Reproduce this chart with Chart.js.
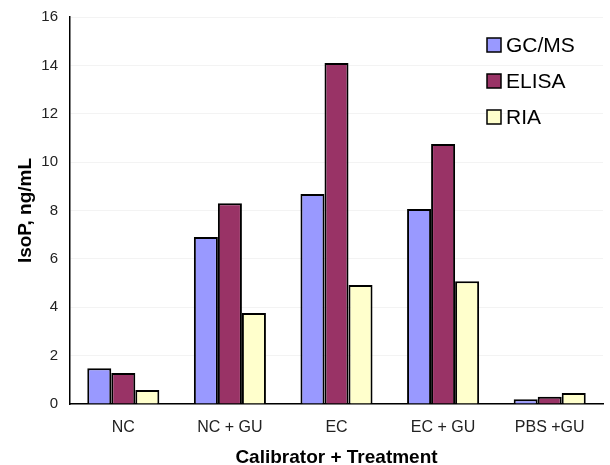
<!DOCTYPE html>
<html lang="en">
<head>
  <meta charset="UTF-8">
  <title>IsoP by Calibrator + Treatment</title>
  <script src="https://cdn.jsdelivr.net/npm/chart.js"></script>
  <style>
    html, body { margin: 0; padding: 0; background: #fff; }
    #wrap { width: 610px; height: 465px; position: relative; }
  </style>
</head>
<body>
<div id="wrap"><canvas id="chart"></canvas></div>
<script>
  const categories = ["NC", "NC + GU", "EC", "EC + GU", "PBS +GU"];
  const gcms = [1.48, 6.9, 8.68, 8.06, 0.2];
  const elisa = [1.28, 8.3, 14.1, 10.75, 0.3];
  const ria = [0.58, 3.76, 4.92, 5.08, 0.45];
  const yTicks = [0, 2, 4, 6, 8, 10, 12, 14, 16];

  const font = "'Liberation Sans', Arial, sans-serif";

  // legend drawn inside the plot, top right
  const insideLegend = {
    id: "insideLegend",
    afterDraw(chart) {
      const ctx = chart.ctx;
      ctx.save();
      ctx.font = "21px " + font;
      ctx.textBaseline = "middle";
      chart.data.datasets.forEach((ds, i) => {
        const y = 45 + i * 36;
        ctx.fillStyle = ds.backgroundColor;
        ctx.fillRect(487, y - 7, 14, 14);
        ctx.strokeStyle = "#000";
        ctx.lineWidth = 1.5;
        ctx.strokeRect(487, y - 7, 14, 14);
        ctx.fillStyle = "#000";
        ctx.fillText(ds.label, 506, y + 1);
      });
      ctx.restore();
    }
  };

  new Chart(document.getElementById("chart"), {
    type: "bar",
    data: {
      labels: categories,
      datasets: [
        { label: "GC/MS", data: gcms, backgroundColor: "#9999FF" },
        { label: "ELISA", data: elisa, backgroundColor: "#993366" },
        { label: "RIA", data: ria, backgroundColor: "#FFFFCC" }
      ].map(d => Object.assign(d, { borderColor: "#000", borderWidth: 2 }))
    },
    options: {
      responsive: true,
      maintainAspectRatio: false,
      animation: false,
      categoryPercentage: 0.676,
      barPercentage: 1,
      layout: { padding: { top: 17, right: 7, left: 0, bottom: 0 } },
      plugins: {
        legend: { display: false },
        tooltip: { enabled: false }
      },
      scales: {
        x: {
          grid: { display: false, drawTicks: false },
          border: { color: "#000", width: 1.5 },
          ticks: { color: "#222", font: { family: font, size: 16 }, padding: 14 },
          title: {
            display: true, text: "Calibrator + Treatment", color: "#000",
            font: { family: font, size: 19, weight: "bold" }, padding: { top: 4, bottom: -4 }
          },
          afterFit(scale) { scale.height = 61; }
        },
        y: {
          min: 0, max: 16,
          afterBuildTicks(scale) { scale.ticks = yTicks.map(v => ({ value: v })); },
          grid: { color: "#f3f3f3", drawTicks: false },
          border: { color: "#000", width: 1.5 },
          ticks: { color: "#222", font: { family: font, size: 15 }, padding: 12 },
          title: {
            display: true, text: "IsoP, ng/mL", color: "#000",
            font: { family: font, size: 19, weight: "bold" }, padding: { top: 14, bottom: 0 }
          },
          afterFit(scale) { scale.width = 70; scale.paddingTop = 0; scale.paddingBottom = 0; }
        }
      }
    },
    plugins: [insideLegend]
  });
</script>
</body>
</html>
